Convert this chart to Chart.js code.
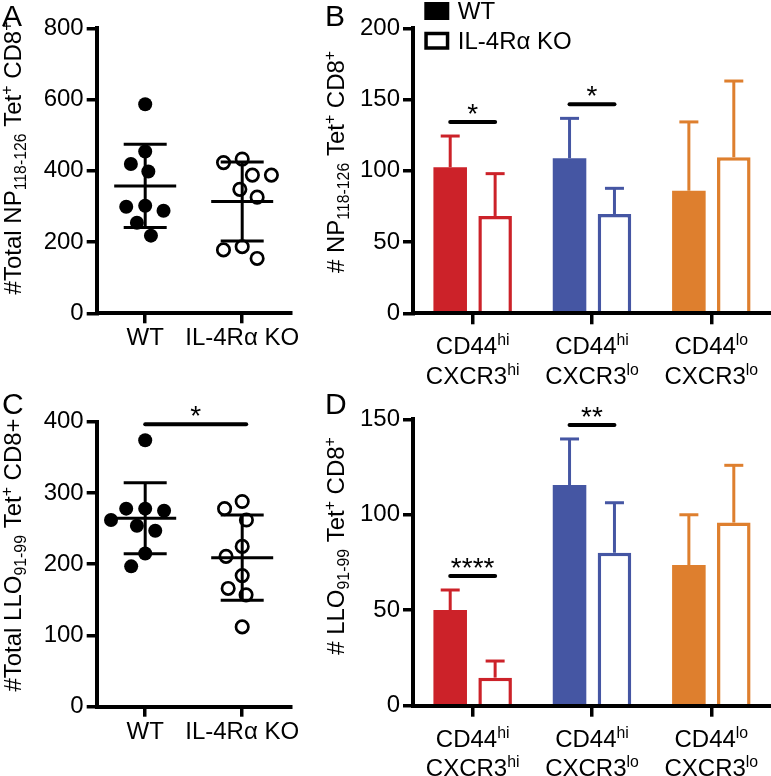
<!DOCTYPE html>
<html>
<head>
<meta charset="utf-8">
<script src="https://cdn.jsdelivr.net/npm/chart.js@4.4.1/dist/chart.umd.min.js"></script>
<style>
  body { margin: 0; background: #fff; }
  #wrap { position: relative; width: 771px; height: 776px; overflow: hidden; }
  canvas { position: absolute; }
</style>
</head>
<body>
<div id="wrap">
  <canvas id="chartA" width="320" height="385" style="left:0;top:0"></canvas>
  <canvas id="chartB" width="451" height="385" style="left:320px;top:0"></canvas>
  <canvas id="chartC" width="320" height="391" style="left:0;top:385px"></canvas>
  <canvas id="chartD" width="451" height="391" style="left:320px;top:385px"></canvas>
</div>
<script>
// ---- data ----
const groups = ['WT', 'IL-4Rα KO'];

// A: total NP118-126 Tet+ CD8+ per mouse
const npWT = [587, 454, 419, 398, 299, 302, 288, 254, 218];
const npKO = [433, 423, 388, 388, 348, 326, 187, 178, 154];
// C: total LLO91-99 Tet+ CD8+ per mouse
const lloWT = [374, 275, 278, 278, 262, 254, 247, 215, 197];
const lloKO = [278, 288, 262, 225, 211, 184, 166, 157, 112];

// B / D: subsets, mean and SD
const subsets = ['CD44^hi|CXCR3^hi', 'CD44^hi|CXCR3^lo', 'CD44^lo|CXCR3^lo'];
const npSubWT = [102.5, 108.8, 86];
const npSubWTsd = [21.9, 28, 48.3];
const npSubKO = [68.3, 69.7, 109.5];
const npSubKOsd = [29.7, 18, 53.5];
const lloSubWT = [50.1, 115.6, 73.7];
const lloSubWTsd = [10.5, 24.1, 26.3];
const lloSubKO = [14.7, 80.1, 95.9];
const lloSubKOsd = [8.7, 26.2, 30];

const sigB = ['*', '*', ''];
const sigD = ['****', '**', ''];
const sigC = '*';

// ---- style ----
const FONT = '"Liberation Sans", Arial, Helvetica, sans-serif';
const subsetColors = ['#CC2229', '#4556A3', '#DE7F2E'];
const PLOT_H = 285;     // height of each plot area, px
const GROUP_PX = 97;    // distance between WT and KO columns, px
const DOT = 19;         // spacing used by the swarm layout

Chart.defaults.font.family = FONT;
Chart.defaults.font.size = 24;
Chart.defaults.color = '#000';

const mean = a => a.reduce((s, v) => s + v, 0) / a.length;
const sd = a => { const m = mean(a); return Math.sqrt(a.reduce((s, v) => s + (v - m) ** 2, 0) / (a.length - 1)); };

// simple beeswarm: offsets in px so dots don't sit on top of each other
function swarm(values, pxPerUnit) {
  const order = values.map((v, i) => i).sort((a, b) => values[b] - values[a]);
  const placed = [];
  const out = [];
  order.forEach(i => {
    const y = values[i] * pxPerUnit;
    const cands = [0];
    placed.forEach(p => {
      const dy = Math.abs(p.y - y);
      if (dy < DOT) {
        const dx = Math.sqrt(DOT * DOT - dy * dy);
        cands.push(p.x + dx, p.x - dx);
      }
    });
    cands.sort((a, b) => Math.abs(a) - Math.abs(b) || a - b);
    const x = cands.find(c => placed.every(p => Math.hypot(p.x - c, p.y - y) >= DOT - 0.01));
    placed.push({ x, y });
    out[i] = x;
  });
  return out;
}

function line(ctx, x1, y1, x2, y2) {
  ctx.beginPath();
  ctx.moveTo(x1, y1);
  ctx.lineTo(x2, y2);
  ctx.stroke();
}

// segs: [[text, 'sub'|'sup'|undefined], ...]
function richWidth(ctx, segs, size) {
  let w = 0;
  segs.forEach(([t, k]) => {
    ctx.font = (k ? size * 0.66 : size) + 'px ' + FONT;
    w += ctx.measureText(t).width;
  });
  return w;
}
function drawRich(ctx, segs, x, y, size) {
  ctx.textAlign = 'left';
  ctx.textBaseline = 'alphabetic';
  let cx = x;
  segs.forEach(([t, k]) => {
    ctx.font = (k ? size * 0.66 : size) + 'px ' + FONT;
    const dy = k === 'sub' ? size * 0.2 : k === 'sup' ? -size * 0.38 : 0;
    ctx.fillText(t, cx, y + dy);
    cx += ctx.measureText(t).width;
  });
}
function supLabel(str) {
  const [a, b] = str.split('^');
  return b ? [[a], [b, 'sup']] : [[a]];
}

function drawSig(ctx, x1, x2, y, lab) {
  ctx.save();
  ctx.strokeStyle = '#000';
  ctx.lineWidth = 4;
  ctx.lineCap = 'round';
  line(ctx, x1, y, x2, y);
  ctx.fillStyle = '#000';
  ctx.font = '28px ' + FONT;
  ctx.textAlign = 'center';
  ctx.textBaseline = 'alphabetic';
  ctx.fillText(lab, (x1 + x2) / 2, y + 1);
  ctx.restore();
}

const panelPlugin = {
  id: 'panel',
  afterDatasetsDraw(chart, args, o) {
    const ctx = chart.ctx;
    const xs = chart.scales.x, ys = chart.scales.y;
    ctx.save();
    ctx.lineWidth = 3;
    ctx.lineCap = 'butt';
    if (o.kind === 'scatter') {
      ctx.strokeStyle = '#000';
      chart.data.datasets.forEach((ds, d) => {
        const vals = ds.data.map(p => p.y);
        const m = mean(vals), s = sd(vals);
        const cx = xs.getPixelForValue(d);
        const ym = ys.getPixelForValue(m), yt = ys.getPixelForValue(m + s), yb = ys.getPixelForValue(m - s);
        line(ctx, cx - 31, ym, cx + 31, ym);
        line(ctx, cx, yt, cx, yb);
        line(ctx, cx - 21.5, yt, cx + 21.5, yt);
        line(ctx, cx - 21.5, yb, cx + 21.5, yb);
      });
      if (o.sig) {
        const all = chart.data.datasets.flatMap(ds => ds.data.map(p => p.y));
        const ly = ys.getPixelForValue(Math.max(...all)) - 16;
        drawSig(ctx, xs.getPixelForValue(0), xs.getPixelForValue(1) + 4, ly, o.sig);
      }
    } else {
      chart.data.datasets.forEach((ds, d) => {
        const meta = chart.getDatasetMeta(d);
        meta.data.forEach((bar, i) => {
          const top = ys.getPixelForValue(ds.data[i] + ds.err[i]);
          ctx.strokeStyle = subsetColors[i];
          line(ctx, bar.x, bar.y, bar.x, top);
          line(ctx, bar.x - 9.5, top, bar.x + 9.5, top);
        });
      });
      (o.sig || []).forEach((lab, i) => {
        if (!lab) return;
        const a = chart.getDatasetMeta(0).data[i], b = chart.getDatasetMeta(1).data[i];
        const d0 = chart.data.datasets[0], d1 = chart.data.datasets[1];
        const top = Math.min(ys.getPixelForValue(d0.data[i] + d0.err[i]), ys.getPixelForValue(d1.data[i] + d1.err[i]));
        drawSig(ctx, a.x, b.x, top - 14, lab);
      });
    }
    ctx.restore();
  },
  afterDraw(chart, args, o) {
    const ctx = chart.ctx;
    const area = chart.chartArea;
    ctx.save();
    ctx.fillStyle = '#000';
    // panel letter
    ctx.font = '30px ' + FONT;
    ctx.textAlign = 'left';
    ctx.textBaseline = 'alphabetic';
    ctx.fillText(o.letter, o.letterPos[0], o.letterPos[1]);
    // rotated y title
    const w = richWidth(ctx, o.title, 24);
    ctx.save();
    ctx.translate(o.titlePos[0], o.titlePos[1]);
    ctx.rotate(-Math.PI / 2);
    drawRich(ctx, o.title, -w / 2, 0, 24);
    ctx.restore();
    if (o.kind === 'bar') {
      // two-line category labels with superscripts
      chart.data.labels.forEach((lab, i) => {
        const px = chart.scales.x.getPixelForValue(i);
        lab.split('|').forEach((part, j) => {
          const segs = supLabel(part);
          const lw = richWidth(ctx, segs, 24);
          drawRich(ctx, segs, px - lw / 2, area.bottom + 41 + j * 29.5, 24);
        });
      });
      if (o.legend) {
        const lx = o.legend[0], ly = o.legend[1];
        ctx.fillRect(lx, ly, 25, 18);
        ctx.strokeStyle = '#000';
        ctx.lineWidth = 3.5;
        ctx.strokeRect(lx + 1.75, ly + 31.5, 21.5, 14.5);
        ctx.font = '24px ' + FONT;
        ctx.textBaseline = 'middle';
        ctx.fillText(groups[0], lx + 33.5, ly + 10);
        ctx.fillText(groups[1], lx + 33.5, ly + 40);
      }
    }
    ctx.restore();
  }
};

function axisOpts(extra) {
  return Object.assign({
    grid: { display: true, drawOnChartArea: false, drawTicks: true, tickLength: 10, lineWidth: 3.5, color: '#000' },
    border: { display: true, width: 4, color: '#000', z: 1 }
  }, extra);
}

function scatterChart(id, wt, ko, cfg) {
  const ppu = PLOT_H / cfg.max;
  const offWT = swarm(wt, ppu), offKO = swarm(ko, ppu);
  return new Chart(document.getElementById(id), {
    type: 'scatter',
    data: {
      datasets: [
        { label: groups[0], data: wt.map((v, i) => ({ x: offWT[i] / GROUP_PX, y: v })),
          backgroundColor: '#000', borderWidth: 0, pointRadius: 7 },
        { label: groups[1], data: ko.map((v, i) => ({ x: 1 + offKO[i] / GROUP_PX, y: v })),
          backgroundColor: '#fff', borderColor: '#000', borderWidth: 2.7, pointRadius: 6.2 }
      ]
    },
    options: {
      responsive: false, animation: false, devicePixelRatio: 1, events: [],
      layout: { padding: { top: cfg.top, right: cfg.right, left: 0, bottom: 0 } },
      plugins: { legend: { display: false }, tooltip: { enabled: false },
        panel: { kind: 'scatter', letter: cfg.letter, letterPos: cfg.letterPos, title: cfg.title, titlePos: cfg.titlePos, sig: cfg.sig } },
      scales: {
        x: axisOpts({
          type: 'linear', min: -0.5, max: 1.5,
          afterBuildTicks: s => { s.ticks = [{ value: 0 }, { value: 1 }]; },
          ticks: { callback: v => groups[v], padding: 1, maxRotation: 0 },
          afterFit: s => { s.height = cfg.bottom; }
        }),
        y: axisOpts({
          min: 0, max: cfg.max,
          ticks: { stepSize: cfg.step, padding: 3 },
          afterFit: s => { s.width = cfg.left; }
        })
      }
    },
    plugins: [panelPlugin]
  });
}

function barChart(id, wt, wtSd, ko, koSd, cfg) {
  return new Chart(document.getElementById(id), {
    type: 'bar',
    data: {
      labels: subsets,
      datasets: [
        { label: groups[0], data: wt, err: wtSd, backgroundColor: subsetColors, borderWidth: 0 },
        { label: groups[1], data: ko, err: koSd, backgroundColor: '#fff', borderColor: subsetColors, borderWidth: 3.5 }
      ]
    },
    options: {
      responsive: false, animation: false, devicePixelRatio: 1, events: [],
      categoryPercentage: 0.753, barPercentage: 0.747,
      layout: { padding: { top: cfg.top, right: 0, left: 0, bottom: 0 } },
      plugins: { legend: { display: false }, tooltip: { enabled: false },
        panel: { kind: 'bar', letter: cfg.letter, letterPos: cfg.letterPos, title: cfg.title, titlePos: cfg.titlePos, sig: cfg.sig, legend: cfg.legend } },
      scales: {
        x: axisOpts({
          grid: { display: true, offset: false, drawOnChartArea: false, tickLength: 11, lineWidth: 3.5, color: '#000' },
          ticks: { display: false },
          afterFit: s => { s.height = cfg.bottom; }
        }),
        y: axisOpts({
          min: 0, max: cfg.max,
          ticks: { stepSize: cfg.step, padding: 3 },
          afterFit: s => { s.width = cfg.left; }
        })
      }
    },
    plugins: [panelPlugin]
  });
}

scatterChart('chartA', npWT, npKO, {
  max: 800, step: 200, top: 28.3, right: 29.3, left: 96.7, bottom: 71.7,
  letter: 'A', letterPos: [2, 26],
  title: [['#Total NP'], ['118-126', 'sub'], [' Tet'], ['+', 'sup'], [' CD8'], ['+', 'sup']],
  titlePos: [21, 158]
});

barChart('chartB', npSubWT, npSubWTsd, npSubKO, npSubKOsd, {
  max: 200, step: 50, top: 28.3, left: 93, bottom: 71.7,
  letter: 'B', letterPos: [5, 26],
  title: [['# NP'], ['118-126', 'sub'], [' Tet'], ['+', 'sup'], [' CD8'], ['+', 'sup']],
  titlePos: [24, 162], sig: sigB, legend: [104.3, 2]
});

scatterChart('chartC', lloWT, lloKO, {
  max: 400, step: 100, top: 36.7, right: 29.3, left: 96.7, bottom: 69.3,
  letter: 'C', letterPos: [2, 29],
  title: [['#Total LLO'], ['91-99', 'sub'], [' Tet'], ['+', 'sup'], [' CD8+']],
  titlePos: [21, 170], sig: sigC
});

barChart('chartD', lloSubWT, lloSubWTsd, lloSubKO, lloSubKOsd, {
  max: 150, step: 50, top: 34.3, left: 93, bottom: 70.3,
  letter: 'D', letterPos: [5, 29],
  title: [['# LLO'], ['91-99', 'sub'], [' Tet'], ['+', 'sup'], [' CD8'], ['+', 'sup']],
  titlePos: [24, 161], sig: sigD
});
</script>
</body>
</html>
